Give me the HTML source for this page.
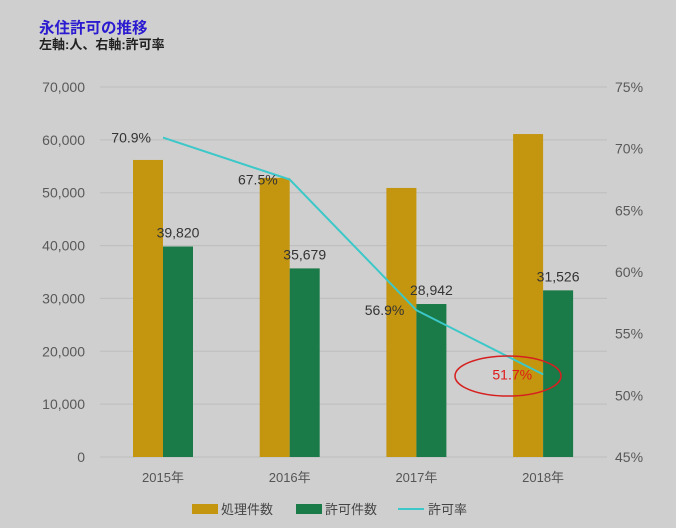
<!DOCTYPE html>
<html><head><meta charset="utf-8"><style>
body{margin:0;background:#cfcfcf;}
svg{display:block;font-family:"Liberation Sans","Noto Sans CJK JP",sans-serif;}
</style></head><body>
<svg id="c" width="676" height="528">
<text x="39" y="33" font-size="15.5" font-weight="bold" fill="#2a1ad0">永住許可の推移</text>
<text x="39" y="49" font-size="13" font-weight="bold" fill="#222">左軸:人、右軸:許可率</text>
<g id="grid"></g><g id="bars"></g><g id="line"></g><g id="labels"></g>
<ellipse cx="508" cy="376" rx="53" ry="20" fill="none" stroke="#d62020" stroke-width="1.5"/>
<g>
<rect x="192" y="504" width="26" height="10" fill="#c4960f"/>
<text x="221" y="514" font-size="13" fill="#444">処理件数</text>
<rect x="296" y="504" width="26" height="10" fill="#1a7a48"/>
<text x="325" y="514" font-size="13" fill="#444">許可件数</text>
<line x1="398" y1="509" x2="424" y2="509" stroke="#3cc8c8" stroke-width="2"/>
<text x="428" y="514" font-size="13" fill="#444">許可率</text>
</g>
</svg>
<script>
const categories=["2015年","2016年","2017年","2018年"];
const processed=[56200,52800,50900,61100];
const approved=[39820,35679,28942,31526];
const rate=[70.9,67.5,56.9,51.7];
const leftTicks=[0,10000,20000,30000,40000,50000,60000,70000];
const rightTicks=[45,50,55,60,65,70,75];
const NS="http://www.w3.org/2000/svg";
const y0=457,y1=87,x0=100,x1=607;
const yL=v=>y0-(v/70000)*(y0-y1);
const yR=v=>y0-((v-45)/30)*(y0-y1);
const xC=i=>163+i*126.7;
function mk(p,t,a){const e=document.createElementNS(NS,t);for(const k in a)e.setAttribute(k,a[k]);document.getElementById(p).appendChild(e);return e;}
leftTicks.forEach(v=>{
 const l=mk('grid','line',{x1:x0,x2:x1,y1:yL(v),y2:yL(v),stroke:'#bdbdbd','stroke-width':1});
 
 
 const t=mk('grid','text',{x:85,y:yL(v)+5,'text-anchor':'end','font-size':14,fill:'#595959'});
 t.textContent=v.toLocaleString('en-US');
 
 
});
rightTicks.forEach(v=>{
 const t=mk('grid','text',{x:615,y:yR(v)+5,'font-size':14,fill:'#595959'});
 t.textContent=v+'%';
 
 
});
categories.forEach((c,i)=>{
 const cx=xC(i);
 const b1=mk('bars','rect',{x:cx-30,y:yL(processed[i]),width:30,height:y0-yL(processed[i]),fill:'#c4960f'});
 
 
 const b2=mk('bars','rect',{x:cx,y:yL(approved[i]),width:30,height:y0-yL(approved[i]),fill:'#1a7a48'});
 
 
 const t=mk('labels','text',{x:cx+15,y:yL(approved[i])-9,'text-anchor':'middle','font-size':14,fill:'#333'});
 t.textContent=approved[i].toLocaleString('en-US');
 
 
 const xl=mk('labels','text',{x:cx,y:482,'text-anchor':'middle','font-size':13,fill:'#555'});
 xl.textContent=c;
 
 
 const last=i===categories.length-1;
 const rl=mk('labels','text',{x:last?cx-11:cx-12,y:yR(rate[i])+5,'text-anchor':'end','font-size':14,fill:last?'#e01818':'#333'});
 rl.textContent=rate[i].toFixed(1)+'%';
 
 
});
const pl=mk('line','polyline',{points:rate.map((v,i)=>xC(i)+','+yR(v)).join(' '),fill:'none',stroke:'#3cc8c8','stroke-width':2});


</script>
</body></html>
